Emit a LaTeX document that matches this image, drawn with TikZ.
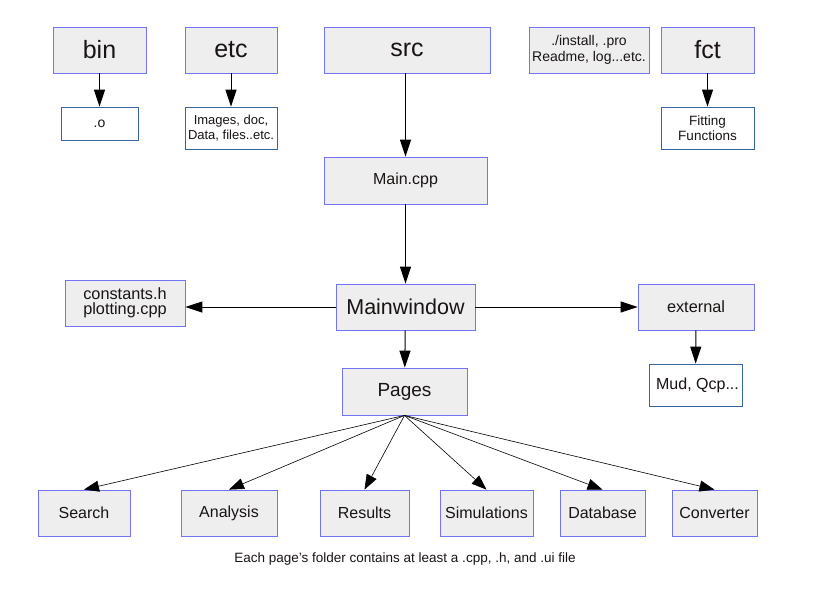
\documentclass[tikz,border=0pt]{standalone}
\usepackage{fontspec}
\setmainfont{Liberation Sans}
\usepackage{tikz}
\usetikzlibrary{positioning,arrows.meta}

\definecolor{boxfill}{HTML}{EEEEEE}
\definecolor{boxline}{HTML}{7373F5}
\definecolor{subline}{HTML}{3465A4}
\definecolor{txt}{HTML}{1A1414}

\begin{document}
\begin{tikzpicture}[x=1pt,y=-1pt,
    folder/.style={draw=boxline, fill=boxfill, line width=0.8pt, inner sep=0pt, text=txt, align=center},
    sub/.style={draw=subline, fill=white, line width=0.8pt, inner sep=0pt, text=txt, align=center},
    link/.style={line width=1pt, -{Triangle[width=11pt,length=17pt]}},
    fan/.style={line width=0.6pt, -{Triangle[width=11pt,length=15pt]}}]
    \useasboundingbox (0,0) rectangle (816,603);

    % top row
    \node[folder, minimum width=93pt, minimum height=46pt, font=\fontsize{25}{28}\selectfont] (bin) at (99.5,50) {bin};
    \node[folder, minimum width=92pt, minimum height=46pt, font=\fontsize{25}{28}\selectfont] (etc) at (231,50) {etc};
    \node[folder, minimum width=166pt, minimum height=46pt, font=\fontsize{25}{28}\selectfont] (src) at (407,50) {src};
    \node[folder, minimum width=120pt, minimum height=46pt, font=\fontsize{14}{16}\selectfont] (misc) at (589,50) {./install, .pro\\Readme, log...etc.};
    \node[folder, minimum width=93pt, minimum height=46pt, font=\fontsize{25}{28}\selectfont] (fct) at (707.5,50) {fct};

    \node[sub, minimum width=77pt, minimum height=33pt, font=\fontsize{14}{16}\selectfont] (obj) at (99.5,123.5) {.o};
    \node[sub, minimum width=92pt, minimum height=42pt, font=\fontsize{13}{15}\selectfont] (res) at (231,128) {Images, doc,\\Data, files..etc.};
    \node[sub, minimum width=93pt, minimum height=42pt, font=\fontsize{13.5}{15.5}\selectfont] (fit) at (707.5,128) {Fitting\\Functions};

    % sources
    \node[folder, minimum width=163pt, minimum height=47pt, font=\fontsize{16}{18}\selectfont] (maincpp) at (405.5,180.5) {Main.cpp};
    \node[folder, minimum width=139pt, minimum height=46pt, font=\fontsize{21.5}{24}\selectfont] (mainwin) at (405.5,307) {Mainwindow};
    \node[folder, minimum width=120pt, minimum height=46pt, font=\fontsize{16.3}{19}\selectfont] (consts) at (125,303) {\raisebox{4pt}{\shortstack{constants.h\\plotting.cpp}}};
    \node[folder, minimum width=116pt, minimum height=46pt, font=\fontsize{16.3}{18}\selectfont] (ext) at (696,307) {external};
    \node[sub, minimum width=93pt, minimum height=42pt, font=\fontsize{16}{18}\selectfont] (mud) at (695.5,385) {\hspace*{4pt}Mud, Qcp...};
    \node[folder, minimum width=125pt, minimum height=47pt, font=\fontsize{19}{22}\selectfont] (pages) at (404.5,391.5) {Pages};

    % pages
    \node[folder, minimum width=92pt, minimum height=46pt, font=\fontsize{16}{18}\selectfont] (search) at (84,513) {Search};
    \node[folder, minimum width=96pt, minimum height=46pt, font=\fontsize{16}{18}\selectfont] (analysis) at (229,513) {Analysis};
    \node[folder, minimum width=89pt, minimum height=46pt, font=\fontsize{16}{18}\selectfont] (results) at (364.5,513) {Results};
    \node[folder, minimum width=93pt, minimum height=46pt, font=\fontsize{16}{18}\selectfont] (sims) at (486.5,513) {Simulations};
    \node[folder, minimum width=85pt, minimum height=46pt, font=\fontsize{16}{18}\selectfont] (db) at (602.5,513) {Database};
    \node[folder, minimum width=85pt, minimum height=46pt, font=\fontsize{16}{18}\selectfont] (conv) at (714.5,513) {Converter};

    \node[text=txt, font=\fontsize{13.5}{15}\selectfont] (note) at (405,559) {Each page's folder contains at least a .cpp, .h, and .ui file};

    \draw[link] (bin) -- (obj);
    \draw[link] (etc) -- (res);
    \draw[link] (fct) -- (fit);
    \draw[link] (src.south -| maincpp) -- (maincpp);
    \draw[link] (maincpp) -- (mainwin);
    \draw[link] (mainwin.west) -- (mainwin.west -| consts.east);
    \draw[link] (mainwin) -- (ext);
    \draw[link] (ext) -- (mud);
    \draw[link] (mainwin) -- (pages);

    \foreach \p in {search,analysis,results,sims,db,conv}
        \draw[fan] (pages.south) -- (\p.north);
\end{tikzpicture}
\end{document}
